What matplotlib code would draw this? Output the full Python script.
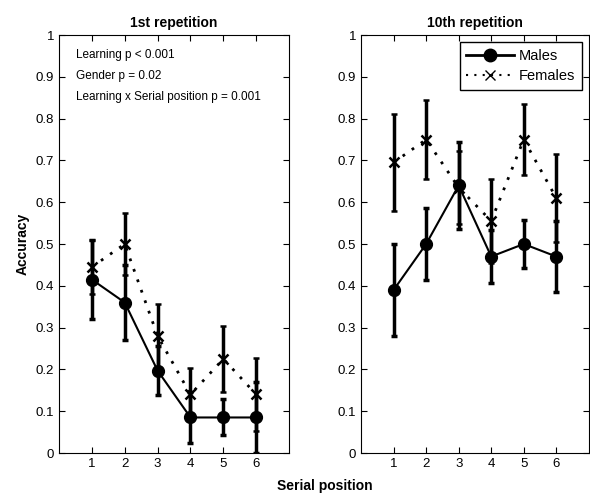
import numpy as np
import matplotlib.pyplot as plt
from matplotlib.lines import Line2D

plt.rcParams['font.family'] = ['Liberation Sans', 'DejaVu Sans']
plt.rcParams['font.size'] = 9

pos = [1, 2, 3, 4, 5, 6]

# 1st repetition
m1 = [0.415, 0.36, 0.197, 0.085, 0.085, 0.085]
m1_err = [0.095, 0.09, 0.058, 0.06, 0.043, 0.085]
f1 = [0.445, 0.50, 0.28, 0.14, 0.225, 0.14]
f1_err = [0.065, 0.075, 0.077, 0.063, 0.078, 0.088]

# 10th repetition
m10 = [0.39, 0.50, 0.64, 0.47, 0.50, 0.47]
m10_err = [0.11, 0.085, 0.105, 0.063, 0.058, 0.085]
f10 = [0.695, 0.75, 0.635, 0.555, 0.75, 0.61]
f10_err = [0.117, 0.095, 0.088, 0.10, 0.085, 0.105]

notes = ["Learning p < 0.001", "Gender p = 0.02", "Learning x Serial position p = 0.001"]

fig = plt.figure(figsize=(5.9, 5.0), dpi=100)
ax1 = fig.add_axes([0.1, 0.094, 0.39, 0.836])
ax2 = fig.add_axes([0.612, 0.094, 0.386, 0.836])


def draw(ax, m, me, f, fe, title):
    ax.errorbar(pos, f, yerr=fe, color='k', ls=(0, (1, 3)), lw=2, marker='x', ms=7, mew=1.8,
                elinewidth=2.5, capsize=2, capthick=2.5)
    ax.errorbar(pos, m, yerr=me, color='k', ls='-', lw=1.5, marker='o', ms=8.5,
                elinewidth=2.5, capsize=2, capthick=2.5)
    ax.set_xlim(0, 7)
    ax.set_ylim(0, 1)
    ax.set_xticks(pos)
    ax.set_yticks(np.arange(0, 1.01, 0.1))
    ax.set_yticklabels(['0', '0.1', '0.2', '0.3', '0.4', '0.5', '0.6', '0.7', '0.8', '0.9', '1'])
    ax.tick_params(direction='in', top=True, right=True, length=4, labelsize=9.5)
    ax.set_title(title, fontweight='bold', fontsize=10)


draw(ax1, m1, m1_err, f1, f1_err, '1st repetition')
draw(ax2, m10, m10_err, f10, f10_err, '10th repetition')

for i, t in enumerate(notes):
    ax1.text(0.075, 0.952 - 0.05 * i, t, transform=ax1.transAxes, fontsize=8.5, va='center')

handles = [Line2D([], [], color='k', ls='-', lw=2, marker='o', ms=9),
           Line2D([], [], color='k', ls=(0, (1, 3)), lw=1.5, marker='x', ms=7, mew=1)]
ax2.legend(handles, ['Males', 'Females'], loc='upper right', fontsize=10.5, fancybox=False,
           edgecolor='k', framealpha=1, handlelength=3.3, handletextpad=0.3,
           borderaxespad=0.5, borderpad=0.45, labelspacing=0.45)

ax1.set_ylabel('Accuracy', fontweight='bold', fontsize=10)
fig.text(0.55, 0.02, 'Serial position', fontweight='bold', fontsize=10, ha='center')

plt.savefig('out.png', dpi=100)
